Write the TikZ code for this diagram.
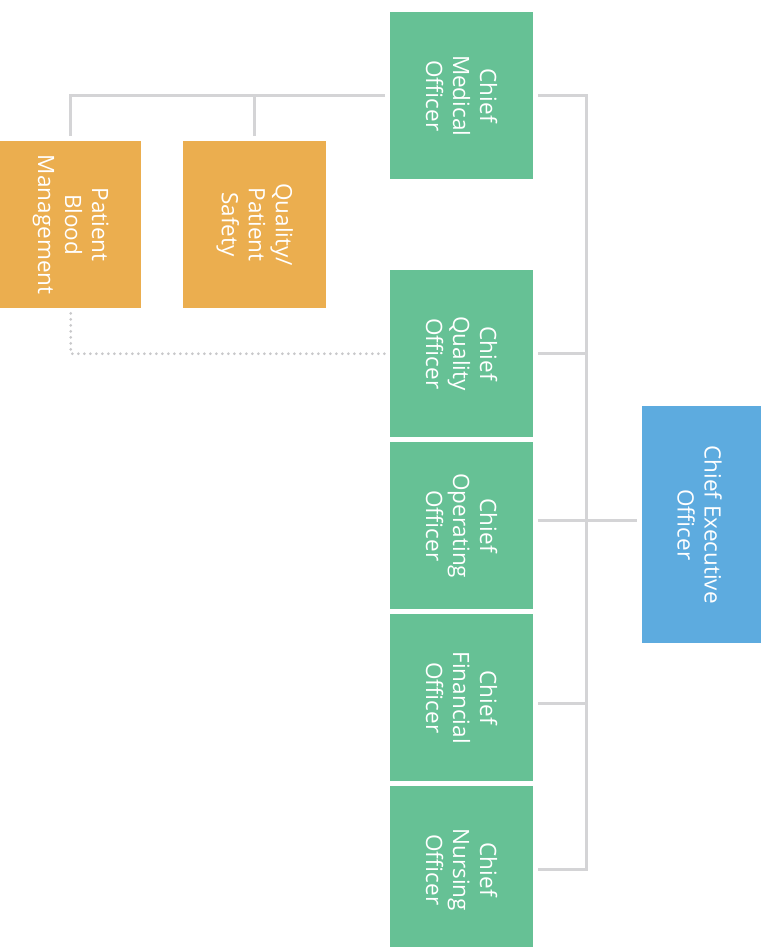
\documentclass[tikz,border=0pt]{standalone}
\usepackage{fontspec}
\setmainfont{Open Sans}
\definecolor{cgreen}{HTML}{66C195}
\definecolor{corange}{HTML}{EBAE4F}
\definecolor{cblue}{HTML}{5DABDF}
\definecolor{cgray}{HTML}{D4D4D6}
\definecolor{cdot}{HTML}{C8C8CA}
\begin{document}
\begin{tikzpicture}[x=1pt,y=-1pt,
  box/.style={draw=none,inner sep=0pt,anchor=north west,minimum width=143pt,minimum height=167pt},
  gbox/.style={box,fill=cgreen},
  obox/.style={box,fill=corange},
  txt/.style={rotate=-90,text=white,align=center,font=\fontsize{22.5}{27}\selectfont,inner sep=0pt},
  conn/.style={draw=cgray,line width=3pt},
  dotconn/.style={draw=cdot,line width=3pt,line cap=round,dash pattern=on 0pt off 6pt}]
\useasboundingbox (0,0) rectangle (767,947);
\node[gbox] (cmo) at (390,12) {};
\node[gbox] (cqo) at (390,270) {};
\node[gbox] (coo) at (390,442) {};
\node[gbox] (cfo) at (390,614) {};
\node[gbox] (cno) at (390,786) {};
\node[obox,minimum width=141pt] (pbm) at (0,141) {};
\node[obox] (qps) at (183,141) {};
\node[box,fill=cblue,minimum width=119pt,minimum height=237pt] (ceo) at (642,406) {};
\node[txt] (tcmo) at (cmo.center) {Chief\\Medical\\Officer};
\node[txt] (tcqo) at (cqo.center) {Chief\\Quality\\Officer};
\node[txt] (tcoo) at (coo.center) {Chief\\Operating\\Officer};
\node[txt] (tcfo) at (cfo.center) {Chief\\Financial\\Officer};
\node[txt] (tcno) at (cno.center) {Chief\\Nursing\\Officer};
\node[txt] (tpbm) at (pbm.center) {Patient\\Blood\\Management};
\node[txt] (tqps) at (qps.center) {Quality/\\Patient\\Safety};
\node[txt] (tceo) at ([xshift=-2pt]ceo.center) {Chief Executive\\Officer};
\coordinate (trunk) at (586,0);
\coordinate (cfoc) at ([xshift=5pt,yshift=-6pt]cfo.east);
\draw[conn] ([xshift=5pt]cmo.east) -| (trunk |- cno.east) -- ([xshift=5pt]cno.east);
\draw[conn] ([xshift=5pt]cqo.east) -- (trunk |- cqo.east);
\draw[conn] ([xshift=5pt,yshift=5pt]coo.east) -- ([xshift=-5pt,yshift=4pt]ceo.west);
\draw[conn] (cfoc) -- (trunk |- cfoc);
\draw[conn] ([xshift=-5pt]cmo.west) -| ([yshift=5pt]pbm.north);
\draw[conn] ([yshift=5pt]qps.north) -- (qps.north |- cmo.west);
\draw[dotconn] ([yshift=-5pt]pbm.south) |- ([xshift=-5pt]cqo.west);
\end{tikzpicture}
\end{document}
